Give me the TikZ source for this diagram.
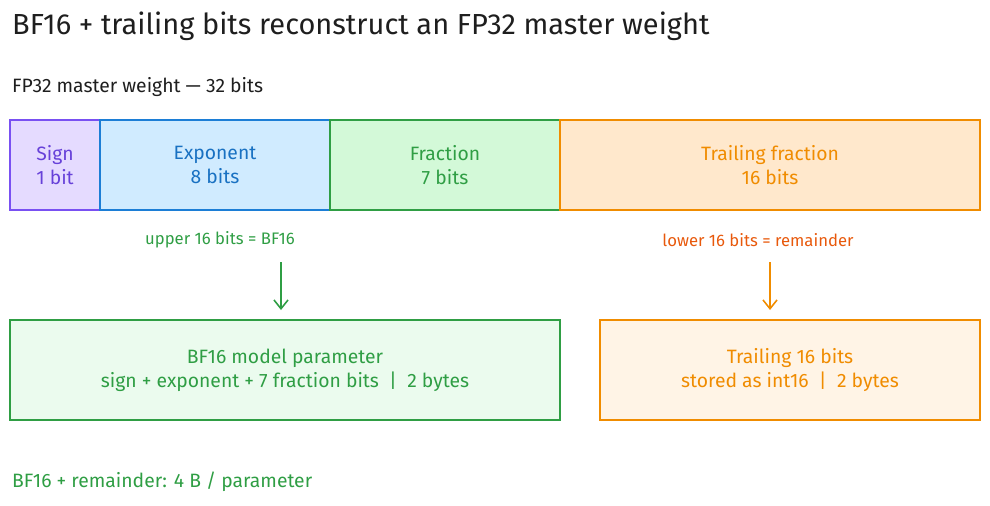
\documentclass[tikz,border=0pt]{standalone}
\usepackage{fontspec}
\setmainfont{Fira Sans}
\usetikzlibrary{positioning,arrows.meta}
\definecolor{signfill}{HTML}{E5DBFF}\definecolor{signline}{HTML}{7950F2}\definecolor{signtext}{HTML}{6741D9}
\definecolor{expfill}{HTML}{D0EBFF}\definecolor{expline}{HTML}{1C7ED6}\definecolor{exptext}{HTML}{1971C2}
\definecolor{fracfill}{HTML}{D3F9D8}\definecolor{fracline}{HTML}{2F9E44}
\definecolor{trailfill}{HTML}{FFE8CC}\definecolor{trailline}{HTML}{F08C00}
\definecolor{lowtext}{HTML}{E8590C}\definecolor{inktext}{HTML}{1E1E1E}
\definecolor{bfill}{HTML}{EBFBEE}\definecolor{tfill}{HTML}{FFF4E6}
\begin{document}
\begin{tikzpicture}[x=0.02cm,y=-0.02cm,
    field/.style={draw,line width=0.9pt,align=center,font=\fontsize{11}{13.5}\selectfont,inner sep=0pt},
    note/.style={font=\fontsize{9.5}{11}\selectfont,anchor=center},
    down/.style={-{Straight Barb[length=5pt,width=8pt]},line width=0.9pt},
  ]
  \useasboundingbox (0,0) rectangle (990,505);
  % title lines
  \node[anchor=west,text=inktext,font=\fontsize{16.5}{18}\selectfont] (title) at (6,26) {BF16 + trailing bits reconstruct an FP32 master weight};
  \node[anchor=west,text=inktext,font=\fontsize{11}{13}\selectfont] (sub) at (6,87) {FP32 master weight — 32 bits};
  % fp32 fields
  \node[field,fill=signfill,draw=signline,text=signtext,minimum width=1.8cm,minimum height=1.8cm] (sign) at (55,165) {Sign\\1 bit};
  \node[field,fill=expfill,draw=expline,text=exptext,minimum width=4.6cm,minimum height=1.8cm] (exp) at (215,165) {Exponent\\8 bits};
  \node[field,fill=fracfill,draw=fracline,text=fracline,minimum width=4.6cm,minimum height=1.8cm] (frac) at (445,165) {Fraction\\7 bits};
  \node[field,fill=trailfill,draw=trailline,text=trailline,minimum width=8.4cm,minimum height=1.8cm] (trail) at (770,165) {Trailing fraction\\16 bits};
  % split labels
  \node[note,text=fracline] (upper) at (220,240) {upper 16 bits = BF16};
  \node[note,text=lowtext] (lower) at (758,240) {lower 16 bits = remainder};
  \coordinate (ua) at (281,262);
  \coordinate (ub) at (281,310);
  \coordinate (la) at (770,262);
  \coordinate (lb) at (770,310);
  % halves
  \node[field,fill=bfill,draw=fracline,text=fracline,minimum width=11cm,minimum height=2cm] (bf) at (285,370) {BF16 model parameter\\sign + exponent + 7 fraction bits \ | \ 2 bytes};
  \node[field,fill=tfill,draw=trailline,text=trailline,minimum width=7.6cm,minimum height=2cm] (rem) at (790,370) {Trailing 16 bits\\stored as int16 \ | \ 2 bytes};
  \draw[down,draw=fracline] (ua) -- (ub);
  \draw[down,draw=trailline] (la) -- (lb);
  \node[anchor=west,text=fracline,font=\fontsize{11}{13}\selectfont] (total) at (6,482) {BF16 + remainder: 4 B / parameter};
\end{tikzpicture}
\end{document}
